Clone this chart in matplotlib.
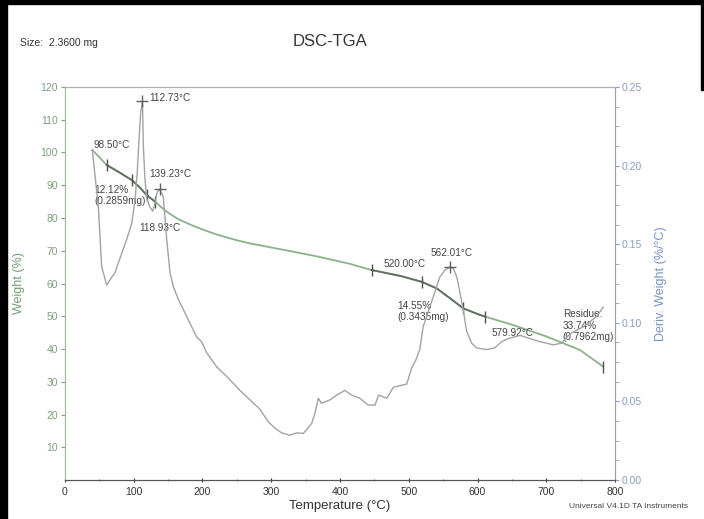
import numpy as np
import matplotlib
matplotlib.use("Agg")
from matplotlib import pyplot as plt
from matplotlib.patches import Rectangle

plt.rcParams['font.family'] = ['Liberation Sans', 'DejaVu Sans']

# TGA curve, weight (%)
tga_temp = [39.7, 60.6, 80, 97, 108, 118.8, 131, 140, 148, 165, 186.6, 200, 220, 250, 270,
            300, 320, 366, 414.5, 446, 458, 490, 519, 540.7, 560, 579.4, 603.6, 611, 652,
            700.6, 749, 783]
tga_weight = [100.8, 96.2, 93.8, 91.6, 89.5, 87.0, 85.0, 83.3, 81.9, 79.6, 77.6, 76.5, 75.0, 73.2,
              72.2, 71.0, 70.2, 68.3, 66.0, 64.1, 63.6, 62.2, 60.5, 58.5, 55.5, 52.4, 50.4, 49.9,
              47.3, 43.8, 39.7, 34.6]

# DTG curve, deriv. weight (%/°C)
dtg_temp = [39.7, 48.5, 53.3, 60.6, 72.7, 89.7, 97, 101.8, 105, 107.6, 110, 112.7, 114, 116.4,
            119, 123, 127.5, 131, 134, 137.5, 141, 143, 145.5, 148, 152.7, 157.6, 164.8, 177,
            191.5, 198.8, 206, 220.6, 235, 254.5, 269, 283.6, 295.7, 305.5, 315, 327, 337,
            346.7, 358.8, 363.6, 368.5, 373, 385.5, 395, 407, 417, 429, 441, 451, 456, 468,
            477.6, 487, 497, 504, 510, 516, 521, 526, 536, 545, 552.7, 560, 565, 570, 574.5,
            579.4, 584, 591.5, 598.7, 613, 625, 635, 645, 662, 676, 691, 710, 722, 734.5,
            754, 773, 783]
dtg_value = [0.210, 0.174, 0.136, 0.124, 0.132, 0.153, 0.163, 0.178, 0.195, 0.216, 0.233, 0.241,
             0.212, 0.191, 0.179, 0.174, 0.171, 0.176, 0.183, 0.185, 0.182, 0.180, 0.167, 0.153,
             0.132, 0.123, 0.115, 0.104, 0.091, 0.088, 0.081, 0.072, 0.066, 0.057, 0.051, 0.045,
             0.037, 0.033, 0.030, 0.0285, 0.030, 0.0296, 0.036, 0.0425, 0.052, 0.0488, 0.051,
             0.054, 0.057, 0.054, 0.052, 0.0477, 0.0477, 0.054, 0.052, 0.059, 0.060, 0.061,
             0.071, 0.076, 0.083, 0.0975, 0.104, 0.117, 0.129, 0.1335, 0.1356, 0.1344, 0.129,
             0.119, 0.108, 0.095, 0.087, 0.084, 0.083, 0.084, 0.088, 0.090, 0.092, 0.090,
             0.088, 0.086, 0.087, 0.093, 0.0975, 0.104, 0.110]

# step analysis markers on TGA
step1_temp = [60.6, 97, 118.8, 131]
step1_weight = [96.2, 91.6, 87.0, 85.0]
step2_temp = [446, 519, 579.4, 611]
step2_weight = [64.1, 60.5, 52.4, 49.9]
peak_temp = [112.7, 137.5, 560]
peak_value = [0.241, 0.185, 0.1356]

fig = plt.figure(figsize=(7.04, 5.19), dpi=100)
ax = fig.add_axes([0.0923, 0.0751, 0.7813, 0.7573])
ax2 = ax.twinx()

green = '#8cb28c'
gray = '#a3a3a3'
blue = '#7893c4'

ax.plot(tga_temp, tga_weight, color=green, lw=1.3, zorder=3)
i1 = tga_temp.index(step1_temp[0]); j1 = tga_temp.index(step1_temp[-1])
i2 = tga_temp.index(step2_temp[0]); j2 = tga_temp.index(step2_temp[-1])
ax.plot(tga_temp[i1:j1 + 1], tga_weight[i1:j1 + 1], color='#607060', lw=1.3, zorder=4)
ax.plot(tga_temp[i2:j2 + 1], tga_weight[i2:j2 + 1], color='#607060', lw=1.3, zorder=4)
ax.plot(step1_temp, step1_weight, ls='none', marker='|', ms=8, color='#505050', zorder=5)
ax.plot(step2_temp, step2_weight, ls='none', marker='|', ms=8, color='#505050', zorder=5)
ax.plot(tga_temp[-1], tga_weight[-1], marker='|', ms=9, color='#505050', zorder=5)

ax2.plot(dtg_temp, dtg_value, color=gray, lw=1.0)
ax2.plot(peak_temp, peak_value, ls='none', marker='+', ms=9, color='#606060')

ax.set_xlim(0, 800)
ax.set_ylim(0, 120)
ax2.set_ylim(0, 0.25)
ax.set_xticks(np.arange(0, 801, 100))
ax.set_xticks(np.arange(50, 800, 100), minor=True)
ax.set_yticks(np.arange(10, 121, 10))
ax2.set_yticks(np.arange(0, 0.26, 0.05))
ax2.set_yticks(np.arange(0.0125, 0.25, 0.0125), minor=True)
ax2.yaxis.set_major_formatter(matplotlib.ticker.FormatStrFormatter('%.2f'))

ax.tick_params(axis='x', labelsize=7.5, colors='#333333', length=3, direction='inout')
ax.tick_params(axis='x', which='minor', length=2, direction='inout', color='#555555')
ax.tick_params(axis='y', labelsize=7.5, colors='#7fa07f', length=3, pad=2)
ax2.tick_params(axis='y', labelsize=7.5, colors='#8a9cbf', length=3, pad=2)
ax2.tick_params(axis='y', which='minor', length=3, color='#8a9cbf')

for a in (ax, ax2):
    a.spines['top'].set_color('#b0b0b0')
    a.spines['left'].set_color('#9fbf9f')
    a.spines['right'].set_color('#a0a0a0')
    a.spines['bottom'].set_color('#555555')

ax.set_xlabel('Temperature (°C)', fontsize=9.5, color='#333333', labelpad=2)
ax.set_ylabel('Weight (%)', fontsize=9, color='#6fa06f', labelpad=11)
ax2.set_ylabel('Deriv. Weight (%/°C)', fontsize=9, color=blue, labelpad=9)

fs = 7.2
tc = '#444444'
ls = 1.15
ax.text(42, 102.3, '98.50°C', fontsize=fs, color=tc, va='center')
ax.text(122, 116.5, '112.73°C', fontsize=fs, color=tc, va='center')
ax.text(122, 93.3, '139.23°C', fontsize=fs, color=tc, va='center')
ax.text(42.6, 90.2, '12.12%\n(0.2859mg)', fontsize=fs, color=tc, va='top', linespacing=ls)
ax.text(108, 76.9, '118.93°C', fontsize=fs, color=tc, va='center')
ax.text(464, 66, '520.00°C', fontsize=fs, color=tc, va='center')
ax.text(531, 69.4, '562.01°C', fontsize=fs, color=tc, va='center')
ax.text(484, 54.6, '14.55%\n(0.3435mg)', fontsize=fs, color=tc, va='top', linespacing=ls)
ax.text(620, 44.8, '579.92°C', fontsize=fs, color=tc, va='center')
ax.text(724, 52.1, 'Residue:\n33.74%\n(0.7962mg)', fontsize=fs, color=tc, va='top', linespacing=ls)

fig.text(20 / 704, 1 - 43 / 519, 'Size:  2.3600 mg', fontsize=7.5, color='#333333', va='center')
fig.text(330 / 704, 1 - 42 / 519, 'DSC-TGA', fontsize=12, color='#333333', va='center', ha='center')
fig.text(688 / 704, 1 - 506 / 519, 'Universal V4.1D TA Instruments', fontsize=6, color='#444444',
         va='center', ha='right')

# black frame from the scanned page
fig.patches.append(Rectangle((0, 0), 7 / 704, 1, transform=fig.transFigure, color='black'))
fig.patches.append(Rectangle((0, 1 - 4 / 519), 1, 4 / 519, transform=fig.transFigure, color='black'))
fig.patches.append(Rectangle((1 - 3 / 704, 1 - 90 / 519), 3 / 704, 90 / 519,
                             transform=fig.transFigure, color='black'))

fig.savefig('out.png', dpi=100)
